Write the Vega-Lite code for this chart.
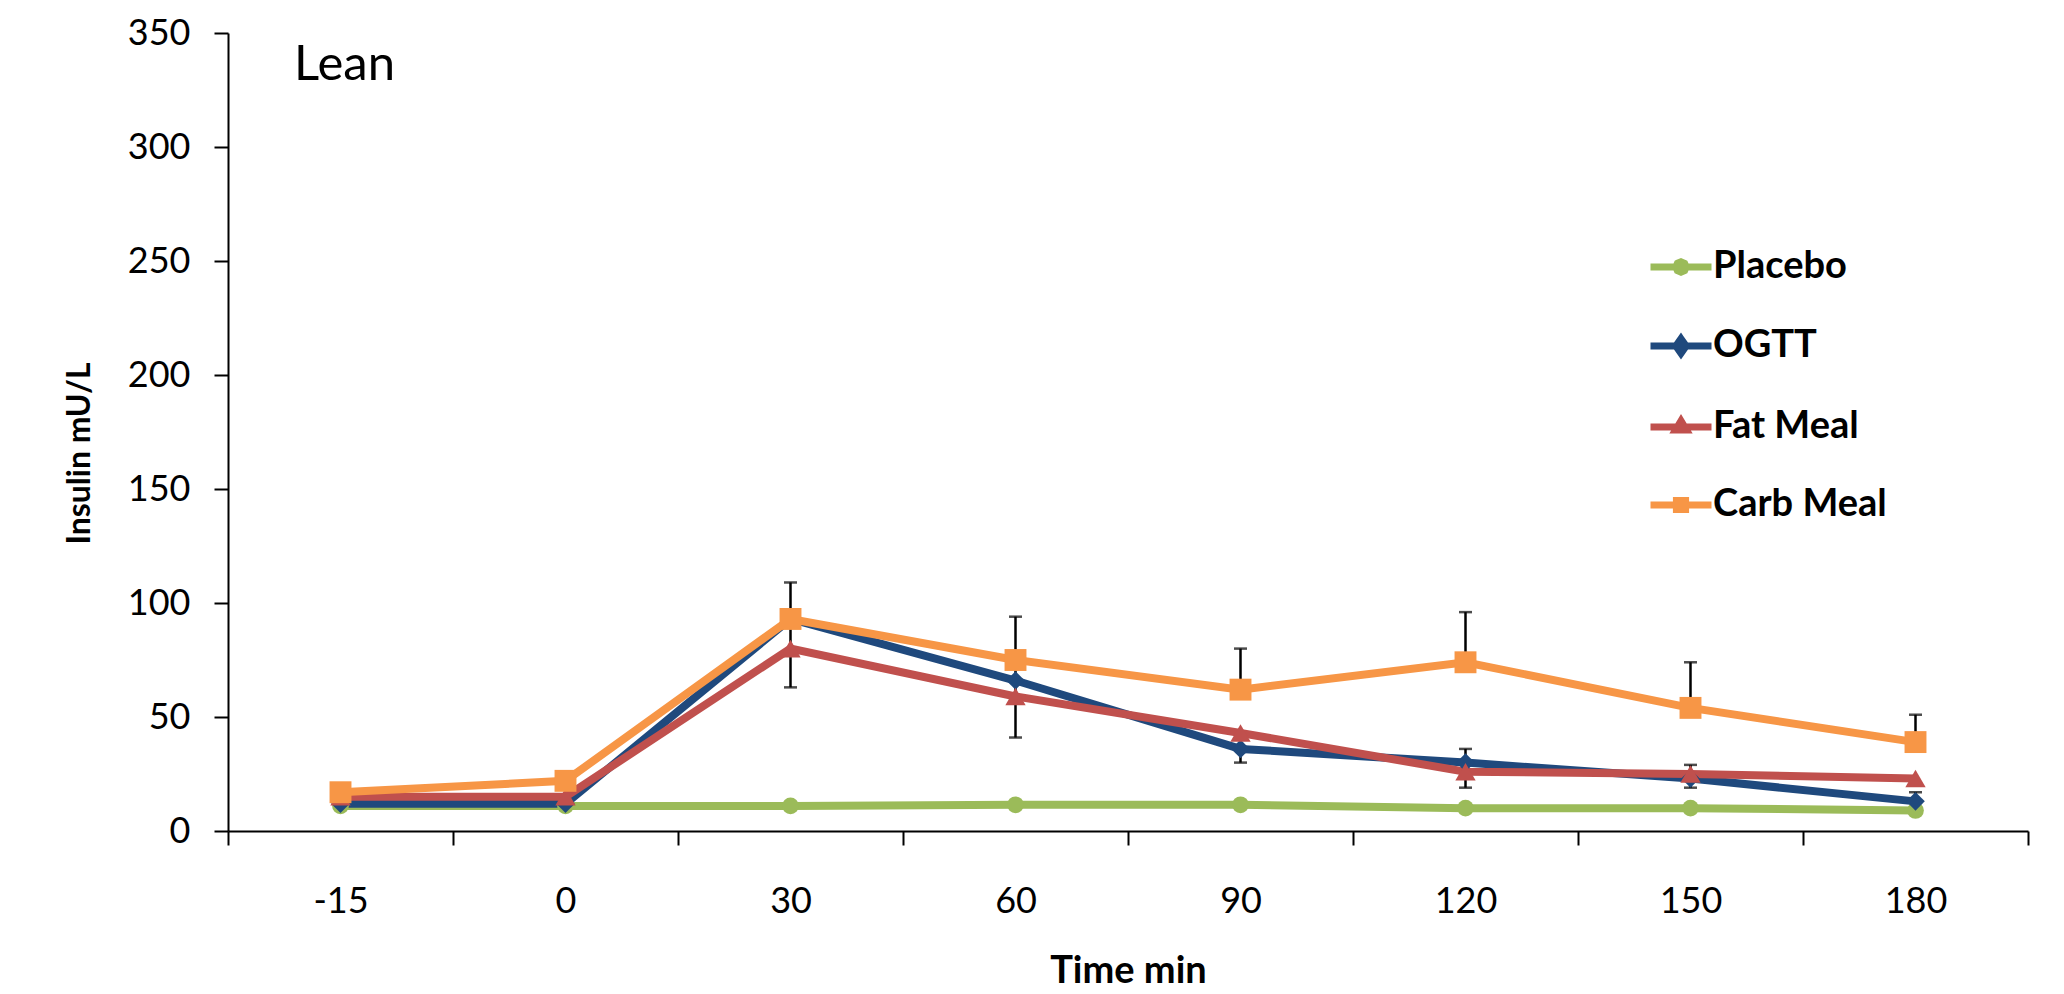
{
  "$schema": "https://vega.github.io/schema/vega-lite/v6.json",
  "width": 1800,
  "height": 798,
  "autosize": {"type": "none"},
  "padding": {"left": 228, "top": 33, "right": 36, "bottom": 163},
  "background": "white",
  "config": {
    "view": {"stroke": null},
    "font": "Lato",
    "axis": {
      "labelFont": "Lato", "labelFontSize": 36, "labelColor": "black",
      "titleFont": "Lato", "titleFontWeight": "bold", "titleColor": "black",
      "tickColor": "black", "tickWidth": 2, "tickSize": 14,
      "domainColor": "black", "domainWidth": 2, "grid": false, "labelOverlap": false
    }
  },
  "datasets": {
    "series": [
      {"series": "Placebo", "time": "-15", "value": 11},
      {"series": "Placebo", "time": "0", "value": 11},
      {"series": "Placebo", "time": "30", "value": 11},
      {"series": "Placebo", "time": "60", "value": 11.5},
      {"series": "Placebo", "time": "90", "value": 11.5},
      {"series": "Placebo", "time": "120", "value": 10},
      {"series": "Placebo", "time": "150", "value": 10},
      {"series": "Placebo", "time": "180", "value": 9},
      {"series": "OGTT", "time": "-15", "value": 12},
      {"series": "OGTT", "time": "0", "value": 12},
      {"series": "OGTT", "time": "30", "value": 93},
      {"series": "OGTT", "time": "60", "value": 66},
      {"series": "OGTT", "time": "90", "value": 36},
      {"series": "OGTT", "time": "120", "value": 30},
      {"series": "OGTT", "time": "150", "value": 23},
      {"series": "OGTT", "time": "180", "value": 13},
      {"series": "Fat Meal", "time": "-15", "value": 15},
      {"series": "Fat Meal", "time": "0", "value": 15},
      {"series": "Fat Meal", "time": "30", "value": 80},
      {"series": "Fat Meal", "time": "60", "value": 59},
      {"series": "Fat Meal", "time": "90", "value": 43},
      {"series": "Fat Meal", "time": "120", "value": 26},
      {"series": "Fat Meal", "time": "150", "value": 25},
      {"series": "Fat Meal", "time": "180", "value": 23},
      {"series": "Carb Meal", "time": "-15", "value": 17},
      {"series": "Carb Meal", "time": "0", "value": 22},
      {"series": "Carb Meal", "time": "30", "value": 93},
      {"series": "Carb Meal", "time": "60", "value": 75},
      {"series": "Carb Meal", "time": "90", "value": 62},
      {"series": "Carb Meal", "time": "120", "value": 74},
      {"series": "Carb Meal", "time": "150", "value": 54},
      {"series": "Carb Meal", "time": "180", "value": 39}
    ],
    "errbars": [
      {"time": "30", "value": 63, "hi": 109},
      {"time": "60", "value": 41, "hi": 94},
      {"time": "90", "value": 62, "hi": 80},
      {"time": "90", "value": 30, "hi": 36},
      {"time": "120", "value": 74, "hi": 96},
      {"time": "120", "value": 19, "hi": 36},
      {"time": "150", "value": 54, "hi": 74},
      {"time": "150", "value": 19, "hi": 29},
      {"time": "180", "value": 39, "hi": 51},
      {"time": "180", "value": 13, "hi": 17}
    ],
    "caps": [
      {"time": "30", "value": 109}, {"time": "30", "value": 63},
      {"time": "60", "value": 94}, {"time": "60", "value": 41},
      {"time": "90", "value": 80}, {"time": "90", "value": 30},
      {"time": "120", "value": 96}, {"time": "120", "value": 36}, {"time": "120", "value": 19},
      {"time": "150", "value": 74}, {"time": "150", "value": 29}, {"time": "150", "value": 19},
      {"time": "180", "value": 51}, {"time": "180", "value": 17}
    ],
    "annot": [{"time": "-15", "value": 329.5, "label": "Lean"}]
  },
  "encoding": {
    "x": {
      "field": "time", "type": "ordinal",
      "sort": ["-15", "0", "30", "60", "90", "120", "150", "180"],
      "scale": {"type": "band", "domain": ["-15", "0", "30", "60", "90", "120", "150", "180"], "paddingInner": 0, "paddingOuter": 0},
      "axis": {"title": "Time min", "titleFontSize": 38, "titlePadding": 33, "labelPadding": 39, "labelAngle": 0, "tickBand": "extent"}
    },
    "y": {
      "field": "value", "type": "quantitative",
      "scale": {"domain": [0, 350], "nice": false, "zero": true},
      "axis": {"title": "Insulin mU/L", "titleFontSize": 32, "titlePadding": 31, "labelPadding": 24, "values": [0, 50, 100, 150, 200, 250, 300, 350], "titleY": 420}
    }
  },
  "resolve": {"legend": {"color": "independent"}},
  "layer": [
    {
      "data": {"name": "errbars"},
      "mark": {"type": "rule", "color": "black", "strokeWidth": 2.5},
      "encoding": {"y2": {"field": "hi"}}
    },
    {
      "data": {"name": "caps"},
      "mark": {"type": "tick", "orient": "horizontal", "size": 13, "thickness": 2.5, "color": "black"}
    },
    {
      "data": {"name": "series"},
      "mark": {"type": "line", "strokeWidth": 8},
      "encoding": {
        "color": {
          "field": "series", "type": "nominal",
          "scale": {"domain": ["Placebo", "OGTT", "Fat Meal", "Carb Meal"], "range": ["#9BBB59", "#1F497D", "#C0504D", "#F79646"]},
          "legend": {
            "orient": "none", "legendX": 1419, "legendY": 200, "title": null, "padding": 0,
            "labelFont": "Lato", "labelFontSize": 38, "labelFontWeight": "bold", "labelColor": "black", "labelLimit": 400,
            "symbolSize": 3721, "symbolStrokeWidth": 7, "rowPadding": 25, "labelOffset": -2,
            "symbolType": "M-1,0H1",
            "encode": {
              "symbols": {
                "update": {
                  "shape": {"signal": "datum.value === 'Placebo' ? 'M-1,0H1M-0.12,-0.12L0,-0.17L0.12,-0.12L0.17,0L0.12,0.12L0,0.17L-0.12,0.12L-0.17,0Z' : datum.value === 'OGTT' ? 'M-1,0H1M0,-0.24L0.17,0L0,0.24L-0.17,0Z' : datum.value === 'Fat Meal' ? 'M-1,0H1M0,-0.2L0.18,0.1L-0.18,0.1Z' : 'M-1,0H1M-0.15,-0.15H0.15V0.15H-0.15Z'"},
                  "stroke": {"scale": "color", "field": "value"},
                  "fill": {"scale": "color", "field": "value"},
                  "strokeWidth": {"value": 7},
                  "opacity": {"value": 1}
                }
              }
            }
          }
        }
      }
    },
    {
      "data": {"name": "series"},
      "mark": {"type": "point", "filled": true, "opacity": 1},
      "encoding": {
        "color": {
          "field": "series", "type": "nominal",
          "scale": {"domain": ["Placebo", "OGTT", "Fat Meal", "Carb Meal"], "range": ["#9BBB59", "#1F497D", "#C0504D", "#F79646"]},
          "legend": null
        },
        "shape": {
          "field": "series", "type": "nominal",
          "scale": {"domain": ["Placebo", "OGTT", "Fat Meal", "Carb Meal"], "range": ["circle", "diamond", "triangle-up", "square"]},
          "legend": null
        },
        "size": {
          "field": "series", "type": "nominal",
          "scale": {"domain": ["Placebo", "OGTT", "Fat Meal", "Carb Meal"], "range": [280, 480, 380, 320]},
          "legend": null
        }
      }
    },
    {
      "data": {"name": "annot"},
      "mark": {"type": "text", "font": "Lato", "fontSize": 49, "align": "center", "baseline": "alphabetic", "dx": 4, "color": "black"},
      "encoding": {"text": {"field": "label"}}
    }
  ]
}
